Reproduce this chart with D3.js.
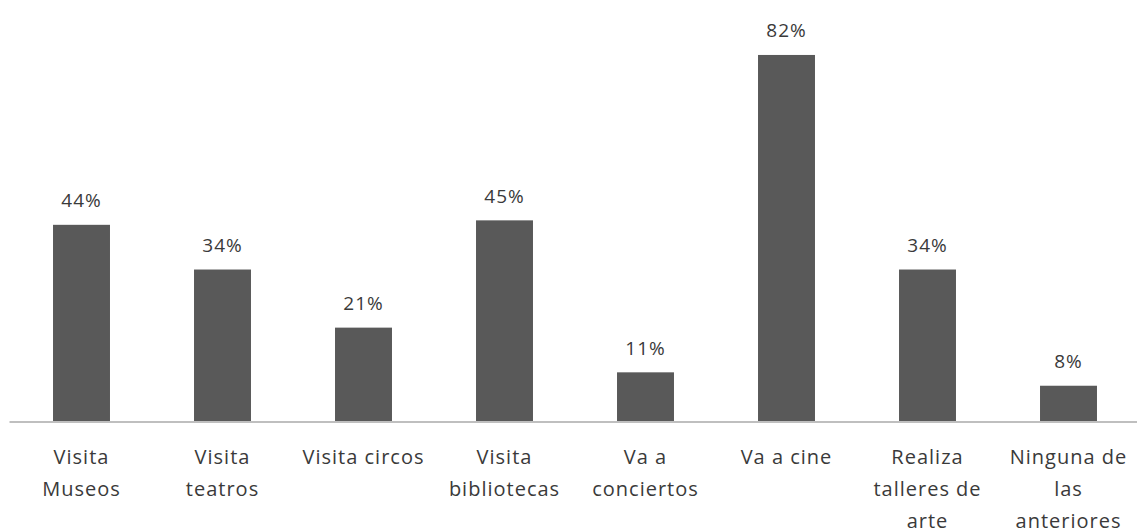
<!DOCTYPE html>
<html>
<head>
<meta charset="utf-8">
<script src="https://cdn.jsdelivr.net/npm/d3@7"></script>
<style>
  html, body { margin: 0; padding: 0; background: #fff; }
  svg { display: block; }
  text { font-family: "Open Sans", "Noto Sans", sans-serif; fill: #3a3a3a; }
</style>
</head>
<body>
<svg id="chart" width="1137" height="532"></svg>
<script>
// Actividades culturales (porcentaje de encuestados)
const categories = [
  "Visita Museos", "Visita teatros", "Visita circos", "Visita bibliotecas",
  "Va a conciertos", "Va a cine", "Realiza talleres de arte", "Ninguna de las anteriores"
];
const categoryLines = [
  ["Visita", "Museos"],
  ["Visita", "teatros"],
  ["Visita circos"],
  ["Visita", "bibliotecas"],
  ["Va a", "conciertos"],
  ["Va a cine"],
  ["Realiza", "talleres de", "arte"],
  ["Ninguna de", "las", "anteriores"]
];
const values = [44, 34, 21, 45, 11, 82, 34, 8];

const svg = d3.select("#chart");
const baseline = 421.5;

const x = d3.scaleBand()
  .domain(categories)
  .range([11, 1139])
  .paddingInner(0.596)
  .paddingOuter(0.298);

const y = d3.scaleLinear()
  .domain([0, 90])
  .range([baseline, baseline - 90 * 4.47]);

// bars
svg.append("g").selectAll("rect")
  .data(values)
  .join("rect")
  .attr("x", (d, i) => x(categories[i]))
  .attr("width", x.bandwidth())
  .attr("y", d => y(d))
  .attr("height", d => y(0) - y(d))
  .attr("fill", "#595959");

// value labels
svg.append("g").selectAll("text")
  .data(values)
  .join("text")
  .attr("x", (d, i) => x(categories[i]) + x.bandwidth() / 2)
  .attr("y", d => y(d) - 17.5)
  .attr("text-anchor", "middle")
  .attr("font-size", 19)
  .attr("letter-spacing", 1)
  .text(d => d + "%");

// category axis
const axis = svg.append("g")
  .attr("transform", `translate(0,${baseline})`)
  .call(d3.axisBottom(x.copy().range([9, 1137])).tickSize(0).tickFormat(""));
axis.select(".domain").attr("stroke", "#bfbfbf").attr("stroke-width", 2);

const labels = svg.append("g").selectAll("text")
  .data(categories)
  .join("text")
  .attr("x", d => x(d) + x.bandwidth() / 2)
  .attr("y", 464)
  .attr("text-anchor", "middle")
  .attr("font-size", 20)
  .attr("letter-spacing", 1);
labels.each(function (d, i) {
  const t = d3.select(this);
  categoryLines[i].forEach((line, j) => {
    t.append("tspan")
      .attr("x", x(d) + x.bandwidth() / 2)
      .attr("dy", j === 0 ? 0 : 32)
      .text(line);
  });
});
</script>
</body>
</html>
